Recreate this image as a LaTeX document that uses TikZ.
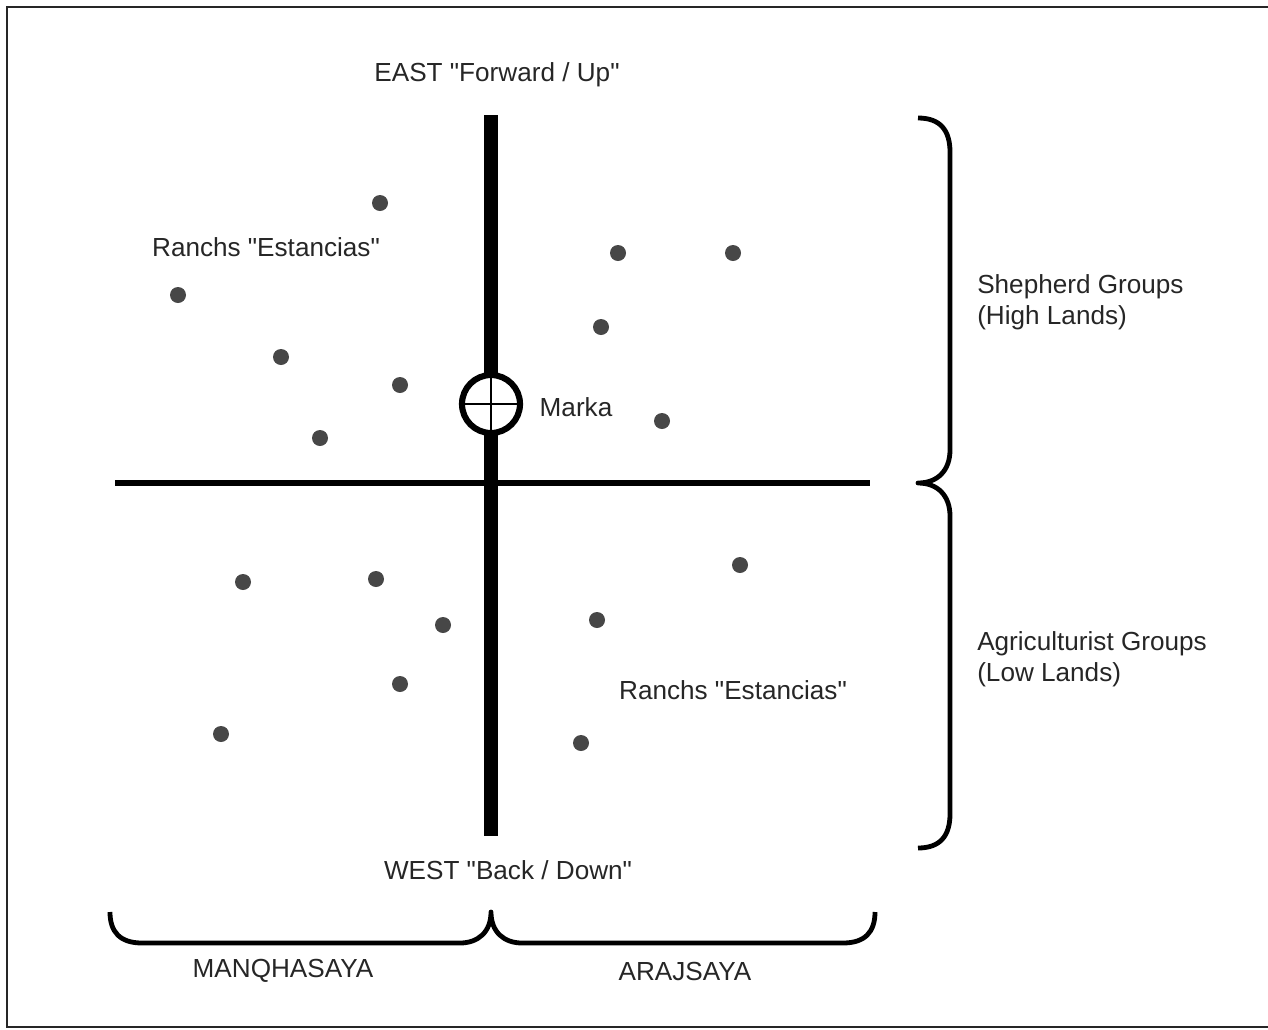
\documentclass[tikz,border=0pt]{standalone}
\usepackage{fontspec}
\setmainfont{Liberation Sans}[Ligatures=TeXOff]
\begin{document}
\begin{tikzpicture}[x=0.75pt,y=-0.75pt,
  lbl/.style={text=black!85, font=\fontsize{19.6}{23.5}\selectfont, inner sep=0pt},
  dot/.style={circle, fill=black!72, minimum size=12pt, inner sep=0pt},
  axisv/.style={line width=10.5pt},
  axish/.style={line width=4.5pt},
  brace/.style={line width=3.6pt, line join=round}]
\useasboundingbox (0,0) rectangle (1268,1029);
\draw[line width=1.6pt, black!85] (1268,7) -- (7,7) -- (7,1027) -- (1268,1027);
% axes
\coordinate (vt) at (491,115);
\coordinate (vb) at (491,836);
\coordinate (hl) at (115,483);
\coordinate (hr) at (870,483);
\draw[axisv] (vt) -- (vb);
\draw[axish] (hl) -- (hr);
% Marka circle
\node[circle, draw, fill=white, line width=4.6pt, minimum size=43.5pt, inner sep=0pt] (marka) at (491,404) {};
\draw[line width=1.5pt] (marka.north) -- (marka.south);
\draw[line width=1.5pt] (marka.west) -- (marka.east);
\node[lbl] (markalbl) at (576,407) {Marka};
% labels
\node[lbl] (east) at (497,75) {EAST "Forward / Up"};
\node[lbl] (west) at (508,870) {WEST "Back / Down"};
\node[lbl] (r1) at (266,247) {Ranchs "Estancias"};
\node[lbl] (r2) at (733,690) {Ranchs "Estancias"};
\node[lbl, anchor=west, align=left] (shep) at (977,302) {Shepherd Groups\\(High Lands)};
\node[lbl, anchor=west, align=left] (agri) at (977,659) {Agriculturist Groups\\(Low Lands)};
\node[lbl] (manq) at (283,971) {MANQHASAYA};
\node[lbl] (araj) at (685,971) {ARAJSAYA};
% dots
\foreach \n/\p in {d1/{(380,203)}, d2/{(178,295)}, d3/{(281,357)}, d4/{(400,385)}, d5/{(320,438)},
  d6/{(618,253)}, d7/{(733,253)}, d8/{(601,327)}, d9/{(662,421)},
  d10/{(243,582)}, d11/{(376,579)}, d12/{(443,625)}, d13/{(400,684)}, d14/{(221,734)},
  d15/{(740,565)}, d16/{(597,620)}, d17/{(581,743)}}
  \node[dot] (\n) at \p {};
% right brace
\coordinate (rbt) at (918,118);
\coordinate (rbm) at (918,483);
\coordinate (rbb) at (918,848);
\draw[brace] (rbt) .. controls (940,118) and (950,130) .. (950,152) -- (950,450)
  .. controls (950,470) and (938,483) .. (rbm)
  .. controls (938,483) and (950,496) .. (950,516) -- (950,814)
  .. controls (950,836) and (940,848) .. (rbb);
% bottom brace
\coordinate (bbl) at (110,912);
\coordinate (bbm) at (491,912);
\coordinate (bbr) at (875,912);
\draw[brace] (bbl) .. controls (110,932) and (120,943) .. (142,943) -- (460,943)
  .. controls (478,943) and (491,932) .. (bbm)
  .. controls (491,932) and (504,943) .. (522,943) -- (843,943)
  .. controls (865,943) and (875,932) .. (bbr);
\end{tikzpicture}
\end{document}
